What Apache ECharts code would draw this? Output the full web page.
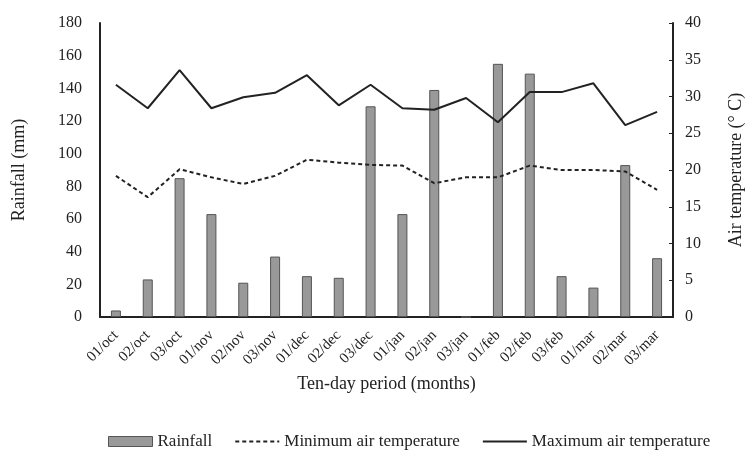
<!DOCTYPE html>
<html><head><meta charset="utf-8">
<script src="https://cdn.jsdelivr.net/npm/echarts@6/dist/echarts.min.js"></script>
<style>html,body{margin:0;padding:0;background:#fff}#c{width:753px;height:457px}</style>
</head><body><div id="c"></div>
<script>
const categories = ['01/oct','02/oct','03/oct','01/nov','02/nov','03/nov','01/dec','02/dec','03/dec','01/jan','02/jan','03/jan','01/feb','02/feb','03/feb','01/mar','02/mar','03/mar'];
const rainfall = [4,23,85,63,21,37,25,24,129,63,139,0,155,149,25,18,93,36];
const minTemp = [19.2,16.3,20.1,19.0,18.1,19.2,21.4,21.0,20.7,20.6,18.2,19.0,19.0,20.6,20.0,20.0,19.8,17.3];
const maxTemp = [31.6,28.4,33.6,28.4,29.9,30.5,32.9,28.8,31.6,28.4,28.2,29.8,26.5,30.6,30.6,31.8,26.1,27.9];
const leftTicks = [0,20,40,60,80,100,120,140,160,180];
const rightTicks = [0,5,10,15,20,25,30,35,40];

const F = '"Liberation Serif","Times New Roman",serif';
const chart = echarts.init(document.getElementById('c'));
chart.setOption({
  animation:false,
  textStyle:{fontFamily:F,color:'#222'},
  grid:{left:100,right:70,top:23,bottom:140},
  legend:{
    bottom:2,left:103,itemGap:22,
    textStyle:{fontFamily:F,fontSize:17,color:'#222'},
    data:[
      {name:'Rainfall',icon:'rect',itemStyle:{color:'#999',borderColor:'#555',borderWidth:1}},
      {name:'Minimum air temperature',itemStyle:{opacity:0}},
      {name:'Maximum air temperature',itemStyle:{opacity:0}}
    ],
    itemWidth:44,itemHeight:10
  },
  xAxis:{
    type:'category',data:categories,
    name:'Ten-day period (months)',nameLocation:'middle',nameGap:54,
    nameTextStyle:{fontFamily:F,fontSize:18,color:'#222'},
    axisLine:{lineStyle:{color:'#222',width:2}},
    axisTick:{show:false},
    axisLabel:{rotate:45,fontFamily:F,fontSize:15,color:'#222',margin:16}
  },
  yAxis:[
    {type:'value',min:leftTicks[0],max:leftTicks[leftTicks.length-1],interval:20,
     name:'Rainfall (mm)',nameLocation:'middle',nameGap:72,nameRotate:90,
     nameTextStyle:{fontFamily:F,fontSize:18,color:'#222'},
     axisLine:{show:true,lineStyle:{color:'#222',width:2}},
     axisTick:{show:false},splitLine:{show:false},
     axisLabel:{fontFamily:F,fontSize:16,color:'#222',margin:18}},
    {type:'value',min:rightTicks[0],max:rightTicks[rightTicks.length-1],interval:5,
     name:'Air temperature (° C)',nameLocation:'middle',nameGap:54,nameRotate:90,
     nameTextStyle:{fontFamily:F,fontSize:18,color:'#222'},
     axisLine:{show:true,lineStyle:{color:'#222',width:2}},
     axisTick:{show:true,inside:true,length:4,lineStyle:{color:'#222'}},splitLine:{show:false},
     axisLabel:{fontFamily:F,fontSize:16,color:'#222',margin:12}}
  ],
  series:[
    {name:'Rainfall',type:'bar',data:rainfall,barWidth:10,yAxisIndex:0,
     itemStyle:{color:'#999',borderColor:'#555',borderWidth:1}},
    {name:'Minimum air temperature',type:'line',data:minTemp,yAxisIndex:1,symbol:'none',
     lineStyle:{color:'#222',width:2,type:[4,3]},itemStyle:{color:'#222'}},
    {name:'Maximum air temperature',type:'line',data:maxTemp,yAxisIndex:1,symbol:'none',
     lineStyle:{color:'#222',width:2},itemStyle:{color:'#222'}}
  ]
});
</script></body></html>
